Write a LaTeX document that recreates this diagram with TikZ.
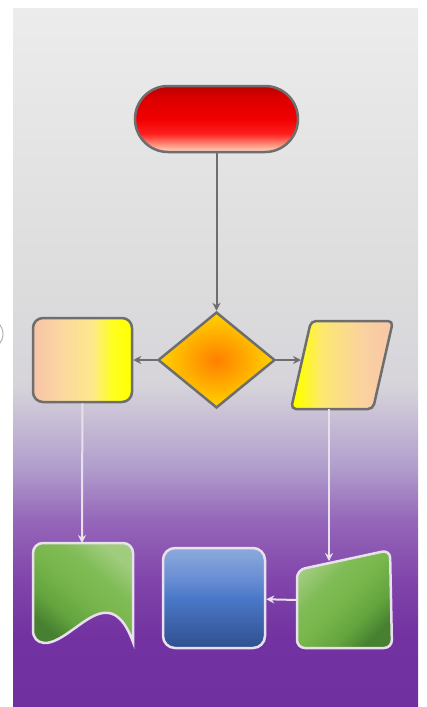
\documentclass[tikz,border=0pt]{standalone}
\usetikzlibrary{arrows.meta,shapes.geometric,shapes.misc}

\definecolor{edgegray}{HTML}{6E6E6E}
\definecolor{edgelight}{HTML}{E8E0EC}

\pgfdeclareverticalshading{bgshade}{100bp}{color(0bp)=(rgb,255:red,112;green,48;blue,160); color(25bp)=(rgb,255:red,112;green,48;blue,160); color(30bp)=(rgb,255:red,114;green,50;blue,161); color(34bp)=(rgb,255:red,128;green,68;blue,170); color(38.5bp)=(rgb,255:red,150;green,104;blue,186); color(42bp)=(rgb,255:red,176;green,156;blue,204); color(45bp)=(rgb,255:red,196;green,184;blue,212); color(48bp)=(rgb,255:red,214;green,212;blue,218); color(55bp)=(rgb,255:red,220;green,220;blue,220); color(75bp)=(rgb,255:red,236;green,236;blue,236); color(100bp)=(rgb,255:red,236;green,236;blue,236)}
\pgfdeclareverticalshading{redbar}{100bp}{color(0bp)=(rgb,255:red,255;green,218;blue,196); color(25bp)=(rgb,255:red,255;green,218;blue,196); color(31bp)=(rgb,255:red,255;green,140;blue,120); color(39bp)=(rgb,255:red,255;green,30;blue,30); color(50bp)=(rgb,255:red,240;green,0;blue,0); color(65bp)=(rgb,255:red,222;green,0;blue,0); color(75bp)=(rgb,255:red,190;green,0;blue,0); color(100bp)=(rgb,255:red,190;green,0;blue,0)}
\pgfdeclarehorizontalshading{peachyellow}{100bp}{color(0bp)=(rgb,255:red,248;green,196;blue,168); color(25bp)=(rgb,255:red,248;green,196;blue,168); color(40bp)=(rgb,255:red,252;green,216;blue,160); color(55bp)=(rgb,255:red,253;green,232;blue,138); color(65bp)=(rgb,255:red,255;green,255;blue,32); color(75bp)=(rgb,255:red,255;green,255;blue,0); color(100bp)=(rgb,255:red,255;green,255;blue,0)}
\pgfdeclarehorizontalshading{yellowpeach}{100bp}{color(0bp)=(rgb,255:red,255;green,255;blue,0); color(28bp)=(rgb,255:red,255;green,255;blue,0); color(40bp)=(rgb,255:red,253;green,232;blue,112); color(60bp)=(rgb,255:red,250;green,210;blue,160); color(75bp)=(rgb,255:red,248;green,198;blue,168); color(100bp)=(rgb,255:red,248;green,198;blue,168)}
\pgfdeclareverticalshading{bluebox}{100bp}{color(0bp)=(rgb,255:red,46;green,80;blue,144); color(25bp)=(rgb,255:red,46;green,80;blue,144); color(40bp)=(rgb,255:red,64;green,104;blue,176); color(50bp)=(rgb,255:red,74;green,120;blue,200); color(60bp)=(rgb,255:red,106;green,142;blue,212); color(75bp)=(rgb,255:red,140;green,170;blue,220); color(100bp)=(rgb,255:red,140;green,170;blue,220)}
\pgfdeclareverticalshading{greenbox}{100bp}{color(0bp)=(rgb,255:red,70;green,128;blue,48); color(25bp)=(rgb,255:red,70;green,128;blue,48); color(36bp)=(rgb,255:red,100;green,164;blue,62); color(50bp)=(rgb,255:red,120;green,182;blue,76); color(62bp)=(rgb,255:red,128;green,188;blue,86); color(75bp)=(rgb,255:red,160;green,204;blue,126); color(100bp)=(rgb,255:red,160;green,204;blue,126)}

\tikzset{
  darkbox/.style={draw=edgegray, line width=2.5pt},
  lightbox/.style={draw=edgelight, line width=2.5pt},
  darklink/.style={draw=edgegray, line width=2pt, -{Stealth[length=8pt,width=8pt]}},
  lightlink/.style={draw=edgelight, line width=2pt, -{Stealth[length=8pt,width=8pt]}}
}

\begin{document}
\begin{tikzpicture}[x=1pt,y=-1pt]
\useasboundingbox (0,0) rectangle (426,707);
\shade[shading=bgshade] (13,8) rectangle (418,707);
\draw[gray!60, line width=1pt] (-12,334) circle (15);

% top row
\node[rounded rectangle, darkbox, shading=redbar, minimum width=163pt, minimum height=66pt, inner sep=0pt] (start) at (216.5,119) {};
\node[diamond, darkbox, inner color=orange, outer color={rgb,255:red,255;green,212;blue,0}, aspect=1.22, minimum width=117pt, minimum height=96pt, inner sep=0pt] (choice) at (216.5,360) {};
\node[rectangle, rounded corners=10pt, darkbox, shading=peachyellow, minimum width=99pt, minimum height=84pt, inner sep=0pt] (left) at (82.5,360) {};
\shade[darkbox, shading=yellowpeach, rounded corners=5pt] (291,409) -- (311,321) -- (393,321) -- (373,409) -- cycle;
\coordinate (right) at (301,360);
\coordinate (rightbot) at (329,409);

% bottom row
\shade[lightbox, shading=greenbox, shading angle=-40] (33,600) [rounded corners=10pt] -- (33,543) -- (133,543) [sharp corners] -- (133,642) .. controls (125,620) and (115,611) .. (103,613) .. controls (85,615) and (62,644) .. (44,643) .. controls (37,642) and (33,638) .. (33,630) -- cycle;
\coordinate (wave) at (82,543);
\node[rectangle, rounded corners=12pt, lightbox, shading=bluebox, minimum width=102pt, minimum height=100pt, inner sep=0pt] (mid) at (214,598) {};
\shade[lightbox, shading=greenbox, shading angle=45, rounded corners=8pt] (297,648) -- (297,570) -- (390,550) -- (392,648) -- cycle;
\coordinate (manual) at (297,600);
\coordinate (manualtop) at (329,561);

% links
\draw[darklink] (start) -- (choice);
\draw[darklink] (choice) -- (left);
\draw[darklink] (choice) -- (right);
\draw[lightlink] (left) -- (wave);
\draw[lightlink] (rightbot) -- (manualtop);
\draw[lightlink] (manual) -- (mid);
\end{tikzpicture}
\end{document}
